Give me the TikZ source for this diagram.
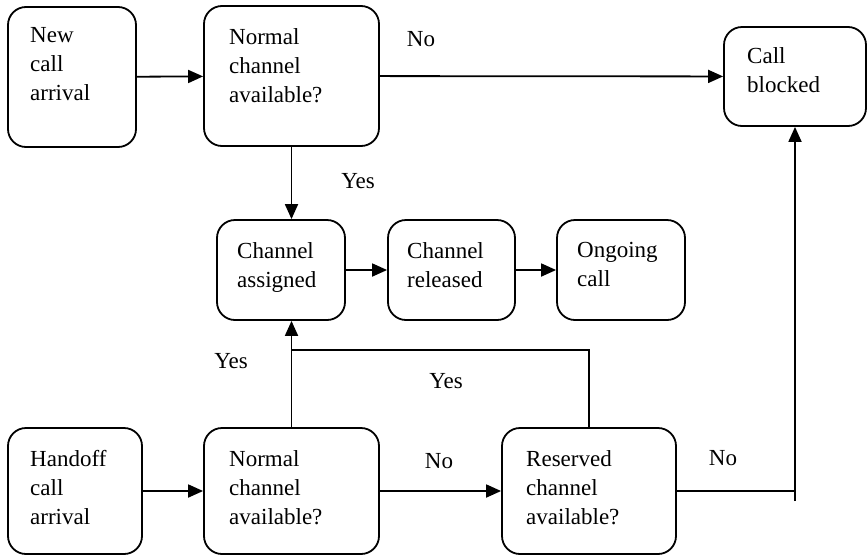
\documentclass[tikz,border=0pt]{standalone}
\usepackage{fontspec}
\setmainfont{Liberation Serif}
\usetikzlibrary{arrows.meta}

\tikzset{
  box/.style={draw, line width=1.8pt, rounded corners=18pt, inner sep=0pt},
  boxtext/.style={anchor=north west, align=left, inner sep=0pt, font=\fontsize{23}{29}\selectfont},
  answer/.style={inner sep=0pt, font=\fontsize{23}{29}\selectfont},
  flow/.style={line width=1.8pt, -{Triangle[length=15pt,width=13pt]}},
  wire/.style={line width=1.8pt}
}

\begin{document}
\begin{tikzpicture}[x=1pt,y=-1pt]
  \useasboundingbox (0,0) rectangle (868,555);

  % top row
  \node[box, minimum width=128pt, minimum height=140pt] (newcall) at (72,77) {};
  \node[boxtext] (newcall-t) at (30,27) {New\\call\\arrival};
  \node[box, minimum width=175pt, minimum height=140pt] (normtop) at (291.5,76) {};
  \node[boxtext] (normtop-t) at (229,28) {Normal\\channel\\available?};
  \node[box, minimum width=142pt, minimum height=99pt] (blocked) at (795,76.5) {};
  \node[boxtext] (blocked-t) at (747,47) {Call\\blocked};

  % middle row
  \node[box, minimum width=128pt, minimum height=100pt] (assigned) at (281,270) {};
  \node[boxtext] (assigned-t) at (237,242) {Channel\\assigned};
  \node[box, minimum width=127pt, minimum height=100pt] (released) at (451.5,270) {};
  \node[boxtext] (released-t) at (407,242) {Channel\\released};
  \node[box, minimum width=128pt, minimum height=100pt] (ongoing) at (621,270) {};
  \node[boxtext] (ongoing-t) at (577,242) {Ongoing\\call};

  % bottom row
  \node[box, minimum width=134pt, minimum height=126pt] (handoff) at (75,491) {};
  \node[boxtext] (handoff-t) at (30,450) {Handoff\\call\\arrival};
  \node[box, minimum width=175pt, minimum height=126pt] (normbot) at (291.5,491) {};
  \node[boxtext] (normbot-t) at (229,450) {Normal\\channel\\available?};
  \node[box, minimum width=174pt, minimum height=126pt] (reserved) at (589,491) {};
  \node[boxtext] (reserved-t) at (526,450) {Reserved\\channel\\available?};

  % connectors
  \draw[flow] (newcall) -- (normtop);
  \draw[flow] (normtop) -- (blocked);
  \draw[flow] (normtop.south) -- (normtop.south |- assigned.north);
  \draw[flow] (assigned) -- (released);
  \draw[flow] (released) -- (ongoing);
  \draw[flow] (handoff) -- (normbot);
  \draw[flow] (normbot) -- (reserved);
  \draw[flow] (normbot.north) -- (normbot.north |- assigned.south);
  \coordinate (join) at (291.5,350);
  \draw[wire] (reserved.north) |- (join);
  \coordinate (turn) at (blocked.south |- reserved.east);
  \draw[wire] (reserved.east) -- (turn);
  \draw[flow] ([yshift=-10pt]turn) -- (blocked.south);

  % answers
  \node[answer] (no1) at (421,39) {No};
  \node[answer] (yes1) at (358,181) {Yes};
  \node[answer] (yes2) at (231,361) {Yes};
  \node[answer] (yes3) at (446,381) {Yes};
  \node[answer] (no2) at (439,461) {No};
  \node[answer] (no3) at (723,458) {No};
\end{tikzpicture}
\end{document}
